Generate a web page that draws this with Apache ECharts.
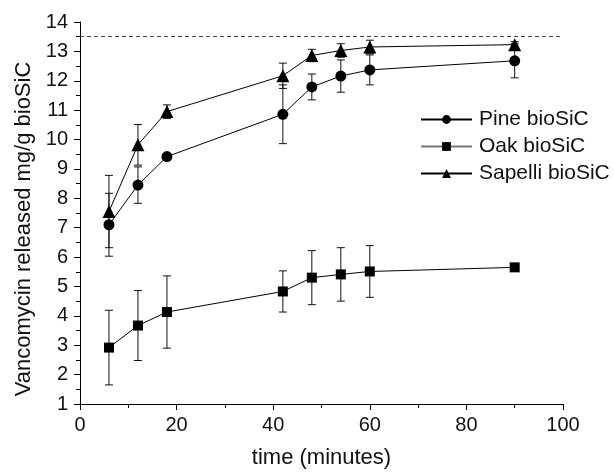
<!DOCTYPE html>
<html>
<head>
<meta charset="utf-8">
<script src="https://cdn.jsdelivr.net/npm/echarts@6/dist/echarts.min.js"></script>
<style>
html,body{margin:0;padding:0;background:#fff;}
#chart{width:614px;height:474px;}
</style>
</head>
<body>
<div id="chart"></div>
<script>
var time = [6, 12, 18, 42, 48, 54, 60, 90];
var pine = [7.1, 8.45, 9.42, 10.86, 11.79, 12.16, 12.37, 12.68];
var pineErr = [1.07, 0.62, 0.1, 1.0, 0.44, 0.55, 0.51, 0.58];
var oak = [2.92, 3.67, 4.13, 4.83, 5.3, 5.41, 5.51, 5.65];
var oakErr = [1.27, 1.19, 1.23, 0.7, 0.92, 0.91, 0.88, 0];
var sapelli = [7.55, 9.82, 10.95, 12.17, 12.86, 13.03, 13.15, 13.23];
var sapelliErr = [1.23, 0.69, 0.23, 0.43, 0.21, 0.23, 0.23, 0.1];
var seriesNames = ['Pine bioSiC', 'Oak bioSiC', 'Sapelli bioSiC'];
var referenceLevel = 13.5;

var FONT = '"Liberation Sans", Arial, sans-serif';

function pairs(xs, ys) { return xs.map(function (x, i) { return [x, ys[i]]; }); }
function errData(xs, ys, es) { return xs.map(function (x, i) { return [x, ys[i] - es[i], ys[i] + es[i]]; }); }

function renderErr(params, api) {
  var x = api.value(0);
  var lo = api.coord([x, api.value(1)]);
  var hi = api.coord([x, api.value(2)]);
  var hw = 4;
  var st = { stroke: '#111', lineWidth: 1 };
  return {
    type: 'group',
    children: [
      { type: 'line', shape: { x1: lo[0], y1: lo[1], x2: hi[0], y2: hi[1] }, style: st },
      { type: 'line', shape: { x1: lo[0] - hw, y1: lo[1], x2: lo[0] + hw, y2: lo[1] }, style: st },
      { type: 'line', shape: { x1: hi[0] - hw, y1: hi[1], x2: hi[0] + hw, y2: hi[1] }, style: st }
    ]
  };
}

function errSeries(data) {
  return {
    type: 'custom', renderItem: renderErr, data: data, z: 1, silent: true,
    encode: { x: 0, y: [1, 2] }
  };
}

function lineSeries(name, data, symbol, size) {
  return {
    name: name, type: 'line', data: data, symbol: symbol, symbolSize: size,
    z: 3,
    lineStyle: { color: '#000', width: 1 },
    itemStyle: { color: '#000' }
  };
}

var chart = echarts.init(document.getElementById('chart'));
var s0 = lineSeries(seriesNames[0], pairs(time, pine), 'circle', 11);
s0.markLine = {
  silent: true, symbol: 'none', label: { show: false },
  lineStyle: { type: [4, 3], color: '#444', width: 1 },
  data: [{ yAxis: referenceLevel }]
};
chart.setOption({
  animation: false,
  backgroundColor: '#fff',
  textStyle: { fontFamily: FONT },
  grid: { left: 80, right: 51, top: 22, bottom: 70, containLabel: false },
  legend: {
    left: 415, top: 104, orient: 'vertical',
    itemWidth: 51, itemHeight: 11, itemGap: 6,
    textStyle: { fontFamily: FONT, fontSize: 21, color: '#111', lineHeight: 21, padding: [0, 0, 0, 2] },
    data: [
      { name: seriesNames[0] },
      { name: seriesNames[1], lineStyle: { color: '#777' } },
      { name: seriesNames[2] }
    ]
  },
  xAxis: {
    type: 'value', min: 0, max: 100, interval: 20,
    name: 'time (minutes)', nameLocation: 'middle', nameGap: 43,
    nameTextStyle: { fontFamily: FONT, fontSize: 22, color: '#111' },
    axisLine: { lineStyle: { color: '#000', width: 1 } },
    axisTick: { show: true, inside: false, length: 6, lineStyle: { color: '#000' } },
    minorTick: { show: true, splitNumber: 2, length: 4, lineStyle: { color: '#000' } },
    axisLabel: { fontFamily: FONT, fontSize: 20, color: '#111', margin: 11 },
    splitLine: { show: false }
  },
  yAxis: {
    type: 'value', min: 1, max: 14, interval: 1,
    name: 'Vancomycin released mg/g bioSiC', nameLocation: 'middle', nameGap: 45, nameRotate: 90,
    nameTextStyle: { fontFamily: FONT, fontSize: 22, color: '#111', padding: [0, 32, 0, 0] },
    axisLine: { show: true, lineStyle: { color: '#000', width: 1 } },
    axisTick: { show: true, inside: false, length: 6, lineStyle: { color: '#000' } },
    minorTick: { show: true, splitNumber: 2, length: 4, lineStyle: { color: '#000' } },
    axisLabel: { fontFamily: FONT, fontSize: 20, color: '#111', margin: 12 },
    splitLine: { show: false }
  },
  series: [
    errSeries(errData(time, pine, pineErr)),
    errSeries(errData(time, oak, oakErr)),
    errSeries(errData(time, sapelli, sapelliErr)),
    s0,
    lineSeries(seriesNames[1], pairs(time, oak), 'rect', 10),
    lineSeries(seriesNames[2], pairs(time, sapelli), 'triangle', 13)
  ]
});
</script>
</body>
</html>
